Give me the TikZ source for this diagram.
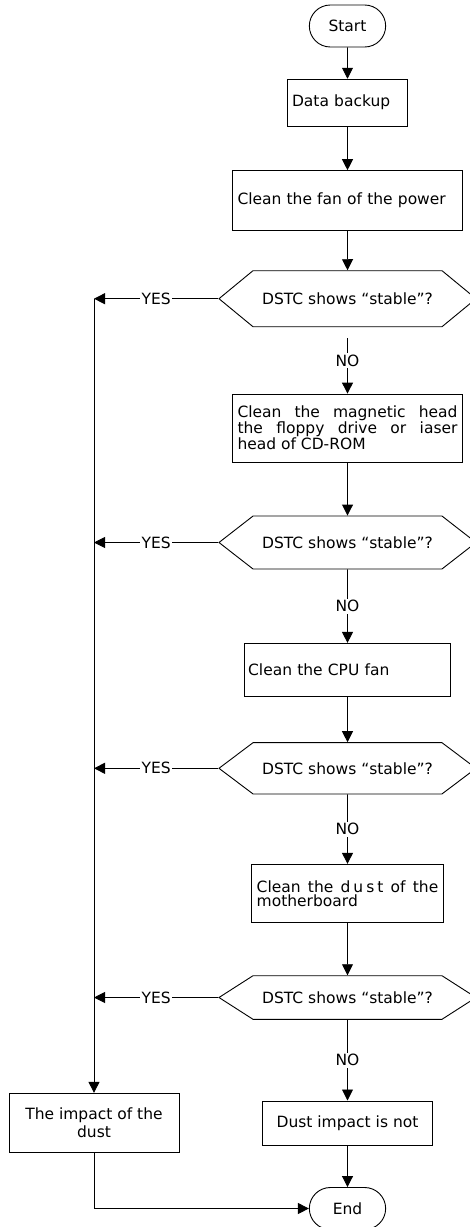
\documentclass[tikz,border=0pt]{standalone}
\usepackage{fontspec}
\setmainfont{DejaVu Sans}
\usetikzlibrary{shapes.misc,shapes.symbols,arrows.meta}

\begin{document}
\begin{tikzpicture}[x=1pt,y=-1pt,line width=0.9pt,
    font=\fontsize{15.5}{14.5}\selectfont,
    proc/.style={draw,rectangle,inner ysep=4pt},
    term/.style={draw,rounded rectangle,minimum width=83,minimum height=42},
    test/.style={draw,signal,signal to=west and east,minimum width=257},
    flow/.style={-{Triangle[length=11pt,width=11pt]}},
    tag/.style={fill=white,inner sep=1.5pt}]
        \path[fill=white,use as bounding box] (0,0) rectangle (470,1227);
        % terminals
        \node[term] (start) at (347.5,26) {Start};
        \node[term] (end) at (347.5,1208.5) {End};
        % boxes
        \node[proc,inner xsep=4.5pt,text width=111,minimum height=47,align=left] (backup) at (347.5,102.7) {Data backup};
        \node[proc,inner xsep=4.7pt,text width=220,minimum height=59.3,align=left] (fan) at (347.5,200.3) {Clean the fan of the power};
        \node[proc,inner xsep=4.8pt,text width=220,minimum height=68.3,align=justify] (magnet) at (347.5,428.2) {Clean the magnetic head\linebreak the floppy drive or iaser\linebreak head of CD-ROM};
        \node[proc,inner xsep=4pt,text width=198.7,minimum height=52.7,align=left] (cpu) at (347.5,669.7) {Clean the CPU fan};
        \node[proc,inner xsep=5pt,text width=181.6,minimum height=58.4,align=justify] (mobo) at (347.5,893.5) {Clean the d\kern3pt u\kern3pt s\kern3pt t of the\linebreak motherboard};
        \node[proc,minimum width=169.6,minimum height=44.7] (notbox) at (347.5,1123.3) {Dust impact is not};
        \node[proc,minimum width=170,minimum height=59.4,align=center,font=\fontsize{15.5}{18}\selectfont] (impact) at (94,1123) {The impact of the\\dust};
        % decisions
        \node[test,minimum height=56,signal pointer angle=79] (h1) at (347.5,298.7) {DSTC shows “stable”?};
        \node[test,minimum height=53,signal pointer angle=75.8] (h2) at (347.5,542.5) {DSTC shows “stable”?};
        \node[test,minimum height=51.3,signal pointer angle=74] (h3) at (347.5,768.3) {DSTC shows “stable”?};
        \node[test,minimum height=43.6,signal pointer angle=65.3] (h4) at (347.5,997.5) {DSTC shows “stable”?};
        % main column
        \draw[flow] (start) -- (backup);
        \draw[flow] (backup) -- (fan);
        \draw[flow] (fan) -- (h1);
        \draw[flow,shorten <=11pt] (h1) -- node[tag] {NO} (magnet);
        \draw[flow] (magnet) -- (h2);
        \draw[flow] (h2) -- node[tag] {NO} (cpu);
        \draw[flow] (cpu) -- (h3);
        \draw[flow] (h3) -- node[tag] {NO} (mobo);
        \draw[flow] (mobo) -- (h4);
        \draw[flow] (h4) -- node[tag] {NO} (notbox);
        \draw[flow] (notbox) -- (end);
        % yes branch
        \draw[flow] (h1.west) -- node[tag] {YES} (h1.west -| impact);
        \draw[flow] (h2.west) -- node[tag] {YES} (h2.west -| impact);
        \draw[flow] (h3.west) -- node[tag] {YES} (h3.west -| impact);
        \draw[flow] (h4.west) -- node[tag] {YES} (h4.west -| impact);
        \draw[flow] (h1.west -| impact) -- (impact);
        \draw[flow] (impact) |- (end);
\end{tikzpicture}
\end{document}
